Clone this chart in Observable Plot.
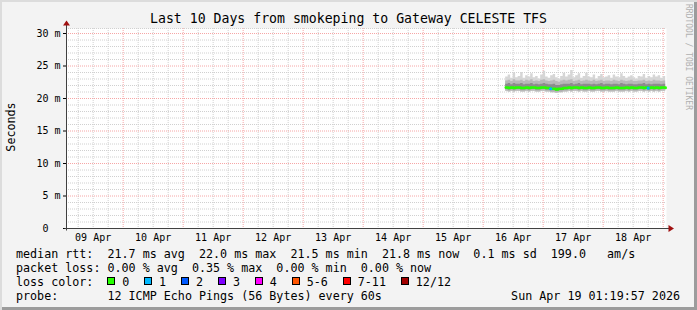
<!DOCTYPE html>
<html><head><meta charset="utf-8">
<script src="https://cdn.jsdelivr.net/npm/d3@7"></script>
<script src="https://cdn.jsdelivr.net/npm/@observablehq/plot@0.6"></script>
<style>
html,body{margin:0;padding:0;background:#fff;}
#wrap{position:relative;width:697px;height:310px;background:#f3f3f3;font-family:"DejaVu Sans Mono",monospace;color:#000;overflow:hidden;box-shadow:inset 2px 2px 0 #dcdcdc, inset -3px -3px 0 #9c9c9c;}
#wrap svg{position:absolute;left:0;top:0;}
.t{position:absolute;white-space:pre;}
#title{left:0;width:697px;text-align:center;top:10px;font-size:13.2px;line-height:18px;}
.leg{left:16px;font-size:11.7px;line-height:14px;}
.sw{display:inline-block;width:6px;height:6px;border:1px solid #000;margin-right:6.7px;vertical-align:1px;}
.it{margin-right:15.2px;}
#ylab{left:11px;top:127px;font-size:11.7px;transform:translate(-50%,-50%) rotate(-90deg);}
#rrd{left:684px;top:4px;font-size:8px;line-height:8px;writing-mode:vertical-rl;color:#b0b0b0;}
#date{right:17px;top:289px;font-size:11.7px;line-height:14px;}
</style>
</head><body>
<div id="wrap"></div>
<script>
// ---- data ----
const titleText = "Last 10 Days from smokeping to Gateway CELESTE TFS";
const yTicks = [0, 5, 10, 15, 20, 25, 30];
const yTickLabels = ["0\u00a0\u00a0", "5 m", "10 m", "15 m", "20 m", "25 m", "30 m"];
const median = [21.7,21.6,21.7,21.6,21.7,21.7,21.6,21.6,21.7,21.6,
  21.7,21.7,21.6,21.6,21.7,21.7,21.6,21.6,21.5,21.5,
  21.4,21.5,21.5,21.6,21.6,21.7,21.6,21.7,21.7,21.6,
  21.7,21.6,21.6,21.7,21.6,21.6,21.7,21.7,21.6,21.6,
  21.7,21.6,21.6,21.6,21.7,21.6,21.6,21.6,21.7,21.6,
  21.7,21.6,21.6,21.7,21.7,21.6,21.7,21.6,21.7,21.6,
  21.7,21.6,21.7,21.7,21.6];
const smokeHigh = [23.3,23.6,23.1,23.9,23.2,23.4,24.0,23.1,23.5,23.3,
  23.8,23.2,23.4,23.0,23.6,24.2,23.3,23.1,23.5,23.7,
  23.2,23.0,23.4,23.9,23.3,23.6,24.3,23.2,23.5,23.8,
  23.1,23.4,23.9,23.3,23.2,23.6,23.0,23.4,23.7,23.2,
  23.3,23.5,23.1,23.6,23.3,23.2,23.8,23.4,23.1,23.3,
  23.5,23.2,23.0,23.4,23.3,23.7,23.1,23.4,23.2,23.6,
  23.3,23.5,23.1,23.4,23.2];
const smokeMidHigh = [22.7,22.8,22.6,22.9,22.7,22.7,22.8,22.6,22.8,22.7,
  22.9,22.6,22.7,22.6,22.8,22.9,22.7,22.6,22.7,22.8,
  22.6,22.5,22.7,22.8,22.7,22.8,22.9,22.6,22.7,22.8,
  22.6,22.7,22.8,22.7,22.6,22.8,22.6,22.7,22.8,22.6,
  22.7,22.7,22.6,22.8,22.7,22.6,22.8,22.7,22.6,22.7,
  22.8,22.6,22.6,22.7,22.7,22.8,22.6,22.7,22.6,22.8,
  22.7,22.7,22.6,22.7,22.6];
const smokeInnerHigh = [22.2,22.3,22.1,22.3,22.2,22.2,22.3,22.1,22.2,22.2,
  22.3,22.1,22.2,22.1,22.2,22.3,22.2,22.1,22.1,22.2,
  22.0,22.0,22.1,22.2,22.2,22.2,22.3,22.1,22.2,22.3,
  22.1,22.2,22.2,22.2,22.1,22.2,22.1,22.2,22.3,22.1,
  22.2,22.2,22.1,22.2,22.2,22.1,22.3,22.2,22.1,22.2,
  22.2,22.1,22.1,22.2,22.2,22.3,22.1,22.2,22.1,22.2,
  22.2,22.2,22.1,22.2,22.1];
const smokeInnerLow = [21.4,21.3,21.4,21.3,21.4,21.4,21.3,21.3,21.4,21.3,
  21.4,21.4,21.3,21.3,21.4,21.4,21.3,21.3,21.2,21.2,
  21.1,21.2,21.2,21.3,21.3,21.4,21.3,21.4,21.4,21.3,
  21.4,21.3,21.3,21.4,21.3,21.3,21.4,21.4,21.3,21.3,
  21.4,21.3,21.3,21.3,21.4,21.3,21.3,21.3,21.4,21.3,
  21.4,21.3,21.3,21.4,21.4,21.3,21.4,21.3,21.4,21.3,
  21.4,21.3,21.4,21.4,21.3];
const smokeLow = [21.1,21.0,21.1,21.0,21.1,21.1,21.0,21.0,21.1,21.0,
  21.1,21.1,21.0,21.0,21.1,21.1,21.0,21.0,20.9,20.9,
  20.8,20.9,20.9,21.0,21.0,21.1,21.0,21.1,21.1,21.0,
  21.1,21.0,21.0,21.1,21.0,21.0,21.1,21.1,21.0,21.0,
  21.1,21.0,21.0,21.0,21.1,21.0,21.0,21.0,21.1,21.0,
  21.1,21.0,21.0,21.1,21.1,21.0,21.1,21.0,21.1,21.0,
  21.1,21.0,21.1,21.1,21.0];
const lossCount = [0,0,0,0,0,0,0,0,0,0,
  0,0,0,0,0,0,0,0,1,0,
  0,0,0,0,0,0,0,0,0,0,
  0,0,0,0,0,0,0,0,0,0,
  0,0,0,0,0,0,0,0,0,0,
  0,0,0,0,0,0,0,1,0,0,
  0,0,0,0,0];
const lossLabels = ["0", "1", "2", "3", "4", "5-6", "7-11", "12/12"];
const lossColors = ["#26ff00", "#00b8ff", "#0059ff", "#7e00ff", "#ff00ff", "#ff5500", "#ff0000", "#a10000"];
const statsLine1 = "median rtt:  21.7 ms avg  22.0 ms max  21.5 ms min  21.8 ms now  0.1 ms sd  199.0   am/s";
const statsLine2 = "packet loss: 0.00 % avg  0.35 % max  0.00 % min  0.00 % now";
const probeLine = "probe:       12 ICMP Echo Pings (56 Bytes) every 60s";
const dateText = "Sun Apr 19 01:19:57 2026";
const yLabel = "Seconds";
const sideText = "RRDTOOL / TOBI OETIKER";

// ---- build ----
const dataStart = new Date(Date.UTC(2026, 3, 16, 9));
const x0 = new Date(Date.UTC(2026, 3, 9, 1, 20));
const x1 = new Date(Date.UTC(2026, 3, 19, 1, 20));
const yMax = 30.77;
const rows = median.map((m, i) => ({
  t: d3.utcHour.offset(dataStart, i), med: m,
  lo: smokeLow[i], lo2: smokeInnerLow[i], hi3: smokeInnerHigh[i], hi2: smokeMidHigh[i], hi: smokeHigh[i],
  loss: lossCount[i]
}));
const minorX = d3.utcHour.every(6).range(x0, x1).filter(d => d.getUTCHours() !== 0);
const majorX = d3.utcDay.range(x0, x1);
const minorY = d3.range(1, 31).filter(v => v % 5 !== 0).concat([yMax]);
const majorY = yTicks.filter(v => v > 0);
const xTicks = d3.utcDay.range(d3.utcDay.floor(x0), x1).map(d => d3.utcHour.offset(d, 12)).filter(d => d > x0 && d < x1);

const chart = Plot.plot({
  width: 697, height: 310,
  marginTop: 28, marginRight: 31, marginBottom: 82, marginLeft: 66,
  style: {background: "transparent", fontFamily: "DejaVu Sans Mono", fontSize: "10px", color: "#000", overflow: "visible"},
  x: {type: "utc", domain: [x0, x1]},
  y: {domain: [0, yMax]},
  marks: [
    Plot.frame({fill: "#ffffff", stroke: "none"}),
    Plot.ruleY(minorY, {stroke: "#d0d0d0", strokeDasharray: "1,1"}),
    Plot.ruleX(minorX, {stroke: "#d0d0d0", strokeDasharray: "1,1"}),
    Plot.ruleY(majorY, {stroke: "#f6a6a6", strokeDasharray: "1,1"}),
    Plot.ruleX(majorX, {stroke: "#f6a6a6", strokeDasharray: "1,1"}),
    Plot.areaY(rows, {x: "t", y1: "lo", y2: "hi", fill: "#d6d6d6", curve: "step-after"}),
    Plot.areaY(rows, {x: "t", y1: "lo", y2: "hi2", fill: "#b8b8b8", curve: "step-after"}),
    Plot.areaY(rows, {x: "t", y1: "lo2", y2: "hi3", fill: "#8c8c8c", curve: "step-after"}),
    Plot.line(rows, {x: "t", y: "med", stroke: lossColors[0], strokeWidth: 2.5, curve: "step-after"}),
    Plot.dot(rows.filter(d => d.loss > 0), {x: "t", y: "med", r: 1.6, fill: d => lossColors[d.loss], stroke: "none"}),
    Plot.axisY({ticks: yTicks, tickFormat: d => yTickLabels[yTicks.indexOf(d)], tickSize: 3, tickPadding: 3, label: null}),
    Plot.axisX({ticks: xTicks, tickFormat: d3.utcFormat("%d %b"), tickSize: 0, tickPadding: 5, label: null})
  ]
});

const wrap = document.getElementById("wrap");
wrap.appendChild(chart);

// axis lines with arrows, placed through the chart's scales
const sx = chart.scale("x"), sy = chart.scale("y");
const X0 = Math.round(sx.apply(x0)) + 0.5, XR = sx.apply(x1);
const Y0 = Math.round(sy.apply(0)) + 0.5, YT = sy.apply(yMax);
const svg = d3.select(chart);
const g = svg.append("g");
g.append("line").attr("x1", X0).attr("x2", X0).attr("y1", Y0 + 2).attr("y2", YT - 3).attr("stroke", "#404040");
g.append("line").attr("x1", X0 - 2).attr("x2", XR + 3).attr("y1", Y0).attr("y2", Y0).attr("stroke", "#404040");
g.append("polygon").attr("points", `${X0 - 3.5},${YT - 2.5} ${X0 + 3.5},${YT - 2.5} ${X0},${YT - 7.5}`).attr("fill", "#a01010");
g.append("polygon").attr("points", `${XR + 2.5},${Y0 - 3.5} ${XR + 2.5},${Y0 + 3.5} ${XR + 8},${Y0}`).attr("fill", "#a01010");

// texts
function addDiv(cls, id, text, top) {
  const d = document.createElement("div");
  d.className = "t " + cls; if (id) d.id = id;
  if (text != null) d.textContent = text;
  if (top != null) d.style.top = top + "px";
  wrap.appendChild(d); return d;
}
addDiv("", "title", titleText);
addDiv("", "ylab", yLabel);
addDiv("", "rrd", sideText);
addDiv("leg", null, statsLine1, 247);
addDiv("leg", null, statsLine2, 261);
const lc = addDiv("leg", null, "loss color:  ", 275);
lossLabels.forEach((lab, i) => {
  const sw = document.createElement("span"); sw.className = "sw"; sw.style.background = lossColors[i];
  const tx = document.createElement("span"); tx.className = "it"; tx.textContent = lab;
  lc.appendChild(sw); lc.appendChild(tx);
});
addDiv("leg", null, probeLine, 289);
addDiv("", "date", dateText);
</script>
</body></html>
